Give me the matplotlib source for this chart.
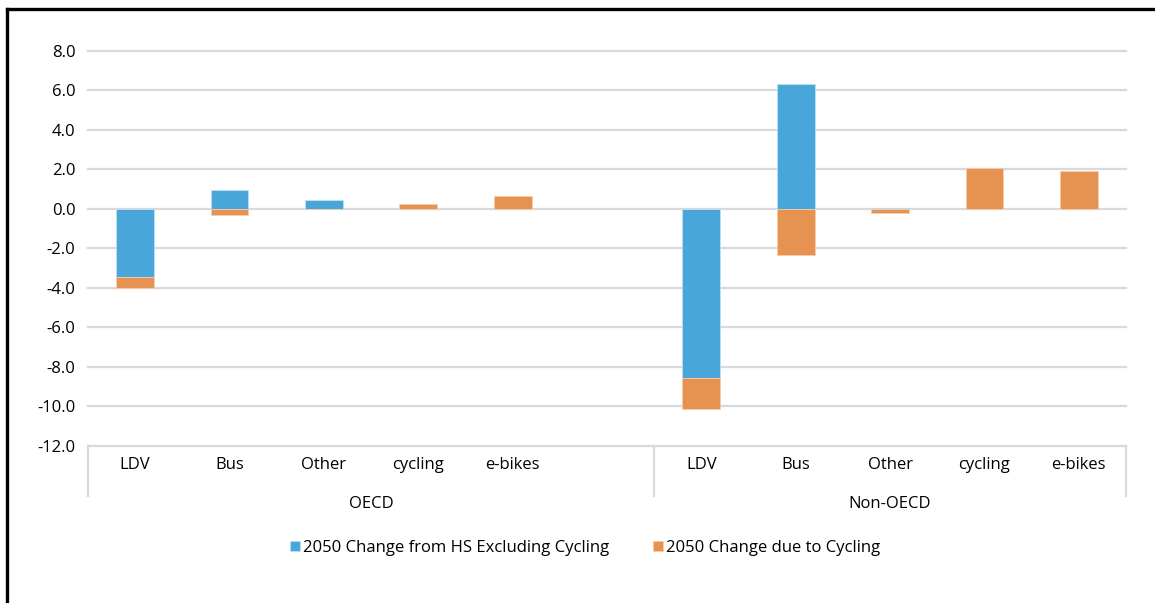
import numpy as np
import matplotlib.pyplot as plt
from matplotlib.lines import Line2D

plt.rcParams['font.family'] = ['Open Sans', 'DejaVu Sans']

# data
groups = ["OECD", "Non-OECD"]
categories = ["LDV", "Bus", "Other", "cycling", "e-bikes"]
series_names = ["2050 Change from HS Excluding Cycling", "2050 Change due to Cycling"]
oecd_excl = [-3.43, 0.96, 0.47, 0.0, 0.0]
oecd_cycl = [-0.55, -0.32, 0.0, 0.24, 0.66]
non_oecd_excl = [-8.56, 6.31, 0.05, 0.0, 0.0]
non_oecd_cycl = [-1.55, -2.31, -0.2, 2.08, 1.91]
y_ticks = [8.0, 6.0, 4.0, 2.0, 0.0, -2.0, -4.0, -6.0, -8.0, -10.0, -12.0]

blue = "#48A6DA"
orange = "#E69250"
grid_col = "#D9D9DD"
fs = 12

# OECD takes slots 0-4 (slot 5 empty), Non-OECD slots 6-10
x = np.array([0, 1, 2, 3, 4, 6, 7, 8, 9, 10])
excl = np.array(oecd_excl + non_oecd_excl)
cycl = np.array(oecd_cycl + non_oecd_cycl)

# excel-style stacking: positives on positives, negatives on negatives
bottom_cycl = np.where(np.sign(cycl) == np.sign(excl), excl, 0.0)

fig = plt.figure(figsize=(11.55, 6.03), dpi=100)
ax = fig.add_axes([88 / 1155, 1 - 446 / 603, 1038 / 1155, 395 / 603])

ax.bar(x, excl, width=0.4, color=blue, edgecolor="#BFE0F2", linewidth=0.6, zorder=3,
       label=series_names[0])
ax.bar(x, cycl, width=0.4, bottom=bottom_cycl, color=orange, edgecolor="#F5CDAE",
       linewidth=0.6, zorder=3, label=series_names[1])

ax.set_xlim(-0.5, 10.5)
ax.set_ylim(-12, 8)
ax.set_yticks(y_ticks)
ax.set_yticklabels([f"{v:.1f}" for v in y_ticks], fontsize=fs)
for v in y_ticks:
    ax.plot([-0.5, 10.5], [v, v], color=grid_col, lw=1.6, zorder=1, clip_on=False)

for s in ax.spines.values():
    s.set_visible(False)
ax.tick_params(axis="y", length=0, pad=9)
ax.tick_params(axis="x", length=0, pad=8)
ax.set_xticks(x)
ax.set_xticklabels(categories + categories, fontsize=fs)

# group separators and labels below the axis
trans = ax.get_xaxis_transform()
for xs in [-0.5, 5.5, 10.5]:
    ax.plot([xs, xs], [0, -0.127], color=grid_col, lw=1.6, transform=trans, clip_on=False)
ax.text(2.5, -0.148, groups[0], transform=trans, ha="center", va="center", fontsize=fs)
ax.text(8.0, -0.148, groups[1], transform=trans, ha="center", va="center", fontsize=fs)

fig.legend(loc="center", bbox_to_anchor=(585 / 1155, 1 - 548 / 603), ncol=2,
           frameon=False, fontsize=fs, handlelength=0.6, handleheight=0.6,
           handletextpad=0.2, columnspacing=2.6)

# partial frame (top and left)
fig.add_artist(Line2D([7 / 1155, 1], [1 - 9 / 603, 1 - 9 / 603], color="black", lw=2.4))
fig.add_artist(Line2D([7 / 1155, 7 / 1155], [0, 1 - 9 / 603], color="black", lw=2.4))

fig.savefig("out.png", dpi=100)
